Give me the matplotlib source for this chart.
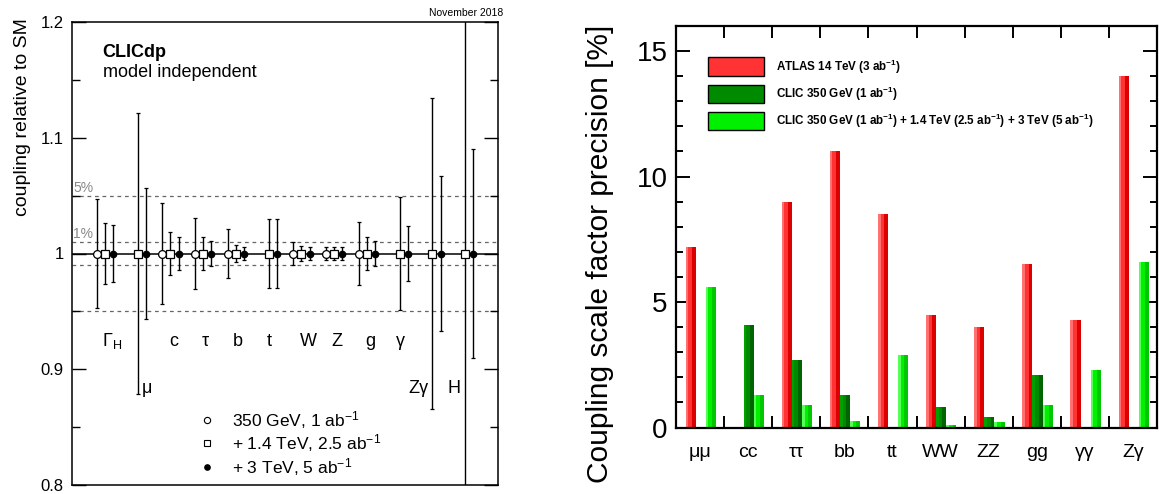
import numpy as np
import matplotlib
matplotlib.use("Agg")
import matplotlib.pyplot as plt
from matplotlib.lines import Line2D
from matplotlib.patches import Rectangle

plt.rcParams["font.family"] = ["Liberation Sans", "DejaVu Sans"]
plt.rcParams["mathtext.fontset"] = "custom"
plt.rcParams["mathtext.rm"] = "Liberation Sans"
plt.rcParams["mathtext.it"] = "Liberation Sans:italic"
plt.rcParams["mathtext.bf"] = "Liberation Sans:bold"

# ---- left panel data: relative uncertainty on each coupling ----
couplings = ["Γ$_{\\rm H}$", "μ", "c", "τ", "b", "t", "W", "Z", "g", "γ", "Zγ", "H"]
err_350 = [0.047, np.nan, 0.044, 0.031, 0.021, np.nan, 0.010, 0.006, 0.027, np.nan, np.nan, np.nan]
err_1400 = [0.0265, 0.121, 0.019, 0.014, 0.0075, 0.030, 0.0065, 0.006, 0.014, 0.049, 0.134, 0.25]
err_3000 = [0.025, 0.057, 0.014, 0.011, 0.006, 0.030, 0.006, 0.0055, 0.011, 0.024, 0.067, 0.090]
stage_labels = ["350 GeV, 1 ab$^{-1}$", "+ 1.4 TeV, 2.5 ab$^{-1}$", "+ 3 TeV, 5 ab$^{-1}$"]

# label placement (x centre, row) for the coupling names
label_x = [1.22, 2.12, 3.09, 4.06, 5.07, 6.01, 7.21, 8.08, 9.09, 10.03, 10.57, 11.65]
label_row = [0, 1, 0, 0, 0, 0, 0, 0, 0, 0, 1, 1]

# ---- right panel data: coupling scale factor precision [%] ----
channels = ["μμ", "cc", "ττ", "bb", "tt", "WW", "ZZ", "gg", "γγ", "Zγ"]
atlas_14tev = [7.2, 0.0, 9.0, 11.0, 8.5, 4.5, 4.0, 6.5, 4.3, 14.0]
clic_350 = [0.0, 4.1, 2.7, 1.3, 0.0, 0.8, 0.4, 2.1, 0.0, 0.0]
clic_all = [5.6, 1.3, 0.9, 0.25, 2.9, 0.1, 0.2, 0.9, 2.3, 6.6]
bar_labels = [
    "ATLAS 14 TeV (3 ab$^{\\mathbf{-1}}$)",
    "CLIC 350 GeV (1 ab$^{\\mathbf{-1}}$)",
    "CLIC 350 GeV (1 ab$^{\\mathbf{-1}}$) + 1.4 TeV (2.5 ab$^{\\mathbf{-1}}$) + 3 TeV (5 ab$^{\\mathbf{-1}}$)",
]
# (main, light edge, dark edge)
bar_colors = [
    ("#ff3333", "#ff7070", "#dd0000"),
    ("#008a00", "#00a000", "#006400"),
    ("#00f000", "#55ff55", "#00c800"),
]

W, H = 1159, 494
fig = plt.figure(figsize=(W / 100, H / 100), dpi=100)

# ================= left panel =================
ax1 = fig.add_axes([72 / W, (H - 485) / H, 426 / W, 463 / H])
x = np.arange(1, len(couplings) + 1)

ax1.axhline(1.0, color="black", lw=1.1, zorder=1)
for lev in [1.05, 1.01, 0.99, 0.95]:
    ax1.axhline(lev, color="#666666", lw=0.9, ls=(0, (3, 3)), zorder=1)
ax1.text(0.03, 1.0505, "5%", color="#888888", fontsize=10, va="bottom", ha="left")
ax1.text(0.03, 1.0105, "1%", color="#888888", fontsize=10, va="bottom", ha="left")

styles = [
    dict(fmt="o", mfc="white", mec="black", ms=5.6),
    dict(fmt="s", mfc="white", mec="black", ms=5.4),
    dict(fmt="o", mfc="black", mec="black", ms=4.6),
]
for off, err, st in zip([-0.25, 0.0, 0.25], [err_350, err_1400, err_3000], styles):
    err = np.array(err)
    yc = np.where(np.isnan(err), np.nan, 1.0)  # no point where the stage gives no result
    ax1.errorbar(x + off, yc, yerr=err, color="black", ecolor="black",
                 elinewidth=1.0, capsize=1.5, capthick=1.0, mew=0.9, zorder=3, **st)

row_y = [0.9205, 0.8795]
for lab, lx, r in zip(couplings, label_x, label_row):
    ha = "left" if lab == "μ" else "center"
    ax1.text(lx, row_y[r], lab, fontsize=13, ha=ha, va="baseline")

handles = [Line2D([], [], ls="none", marker="o", mfc="white", mec="black", ms=4.5, mew=0.8),
           Line2D([], [], ls="none", marker="s", mfc="white", mec="black", ms=4.5, mew=0.8),
           Line2D([], [], ls="none", marker="o", mfc="black", mec="black", ms=3.8)]
ax1.legend(handles, stage_labels, loc="upper left", bbox_to_anchor=(0.297, 0.165),
           frameon=False, fontsize=12.5, handlelength=1.0, handletextpad=0.95,
           labelspacing=0.1, borderpad=0, borderaxespad=0)

ax1.text(0.072, 0.935, "CLICdp", transform=ax1.transAxes, fontsize=13,
         fontweight="bold", va="center")
ax1.text(0.072, 0.89, "model independent", transform=ax1.transAxes, fontsize=13,
         va="center")
fig.text(503 / W, 1 - 13 / H, "November 2018", fontsize=7.5, ha="right", va="center")

ax1.set_xlim(0, 13)
ax1.set_ylim(0.8, 1.2)
ax1.set_xticks([])
ax1.set_yticks([0.8, 0.9, 1.0, 1.1, 1.2])
ax1.set_yticklabels(["0.8", "0.9", "1", "1.1", "1.2"])
ax1.set_yticks(np.arange(0.85, 1.2, 0.1), minor=True)
ax1.tick_params(axis="y", which="both", direction="in", left=True, right=True,
                labelsize=12, pad=6, width=1.0)
ax1.tick_params(axis="y", which="major", length=10)
ax1.tick_params(axis="y", which="minor", length=6)
for sp in ax1.spines.values():
    sp.set_linewidth(1.1)
fig.text(23 / W, 1 - 18 / H, "coupling relative to SM", rotation=90, fontsize=14,
         ha="center", va="top")

# ================= right panel =================
ax2 = fig.add_axes([676 / W, (H - 427.5) / H, 481 / W, 401.5 / H])
xb = np.arange(len(channels))
bw = 0.21
for j, (vals, cols) in enumerate(zip([atlas_14tev, clic_350, clic_all], bar_colors)):
    x0 = xb + 0.2 + j * bw
    main, light, dark = cols
    ax2.bar(x0, vals, width=bw, align="edge", color=main, lw=0, zorder=2)
    ax2.bar(x0, vals, width=bw * 0.25, align="edge", color=light, lw=0, zorder=3)
    ax2.bar(x0 + bw * 0.62, vals, width=bw * 0.38, align="edge", color=dark, lw=0, zorder=3)

# legend boxes drawn by hand in axes fractions
box_rows = [(0.875, 0.922), (0.8075, 0.854), (0.740, 0.7865)]
for (y0, y1), cols, lab in zip(box_rows, bar_colors, bar_labels):
    ax2.add_patch(Rectangle((0.066, y0), 0.116, y1 - y0, transform=ax2.transAxes,
                            facecolor=cols[0], edgecolor="black", lw=1.0, zorder=5))
    ax2.text(0.208, (y0 + y1) / 2, lab, transform=ax2.transAxes, fontsize=8.4,
             fontweight="bold", va="center", ha="left")

ax2.set_xlim(0, len(channels))
ax2.set_ylim(0, 16)
ax2.set_xticks(np.arange(1, len(channels)))
ax2.set_xticklabels([])
ax2.set_xticks(xb + 0.5, minor=True)
ax2.set_xticklabels(channels, minor=True)
ax2.tick_params(axis="x", which="major", direction="in", top=True, bottom=True,
                length=8.5, width=1.4)
ax2.tick_params(axis="x", which="minor", length=0, pad=12, labelsize=14)
ax2.set_yticks([0, 5, 10, 15])
ax2.set_yticks(np.arange(0, 16, 1), minor=True)
ax2.tick_params(axis="y", which="both", direction="in", left=True, right=True,
                labelsize=20, width=1.4, pad=6)
ax2.tick_params(axis="y", which="major", length=10)
ax2.tick_params(axis="y", which="minor", length=5)
for sp in ax2.spines.values():
    sp.set_linewidth(1.6)
    sp.set_zorder(6)
fig.text(600 / W, 1 - 25 / H, "Coupling scale factor precision [%]", rotation=90,
         fontsize=21.5, ha="center", va="top")

fig.savefig("out.png", dpi=100)
